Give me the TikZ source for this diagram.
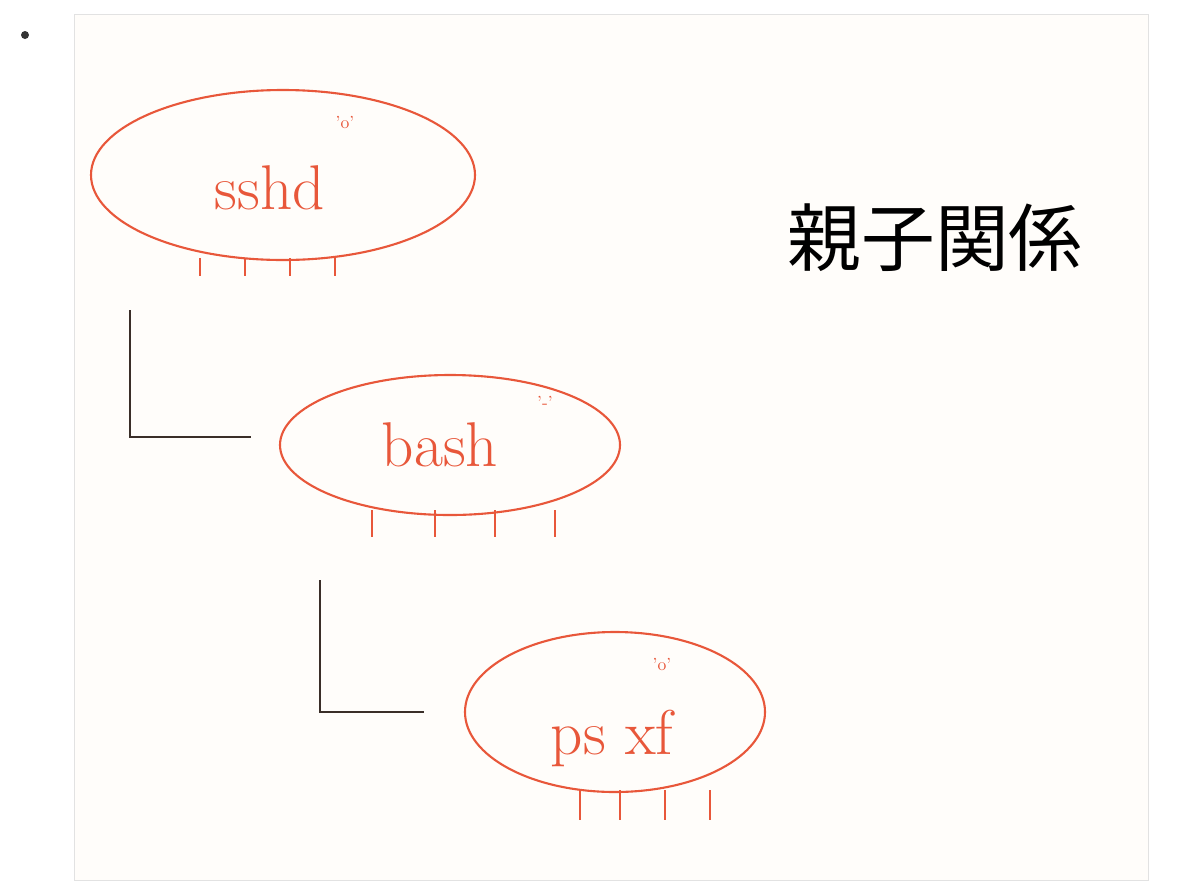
\documentclass[tikz,border=0pt]{standalone}
\usepackage{fontspec}
\newfontfamily\cjk{Noto Sans CJK JP}
\usetikzlibrary{shapes.geometric}
\definecolor{bugred}{HTML}{E8573A}
\definecolor{paper}{HTML}{FFFDFA}
\definecolor{edge}{HTML}{E2E2E2}
\definecolor{ink}{HTML}{3A2E28}
\tikzset{
  proc/.style={ellipse,draw=bugred,very thick,text=bugred,font=\fontsize{36}{36}\selectfont},
  leg/.style={draw=bugred,very thick},
  face/.style={text=bugred,font=\normalsize},
  branch/.style={draw=ink,very thick}
}
\begin{document}
\begin{tikzpicture}[x=0.02cm,y=-0.02cm]
\useasboundingbox (0,0) rectangle (1200,890);
\fill[black!80] (25,35) circle (4); % bullet
\draw[edge,fill=paper] (74,14) rectangle (1148,880); % paper

% processes
\node[proc,minimum width=384*0.02cm,minimum height=170*0.02cm] (sshd) at (283,175) {};
\node[proc,minimum width=340*0.02cm,minimum height=140*0.02cm] (bash) at (450,445) {};
\node[proc,minimum width=300*0.02cm,minimum height=160*0.02cm] (ps) at (615,712) {};
\node[text=bugred,font=\fontsize{36}{36}\selectfont] (sshdtext) at (270,188) {sshd};
\node[text=bugred,font=\fontsize{36}{36}\selectfont] (bashtext) at (440,445) {bash};
\node[text=bugred,font=\fontsize{36}{36}\selectfont] (pstext) at (612,738) {ps xf};

% legs
\foreach \x in {200,245,290,335} \draw[leg] (\x,258) -- (\x,276);
\foreach \x in {372,435,495,555} \draw[leg] (\x,510) -- (\x,537);
\foreach \x in {580,620,665,710} \draw[leg] (\x,790) -- (\x,820);

% faces
\node[face] (f1) at (345,122) {'o'};
\node[face] (f2) at (545,402) {'-'};
\node[face] (f3) at (662,664) {'o'};

% branches
\coordinate (b1) at (130,310);
\coordinate (c1) at (130,437);
\coordinate (b2) at (320,580);
\coordinate (c2) at (320,712);
\draw[branch,shorten >=0.55cm] (b1) -- (c1) -- (bash.west |- c1);
\draw[branch,shorten >=0.8cm] (b2) -- (c2) -- (ps.west |- c2);

\node[font=\cjk\fontsize{42}{42}\selectfont] (title) at (935,238) {親子関係};
\end{tikzpicture}
\end{document}
